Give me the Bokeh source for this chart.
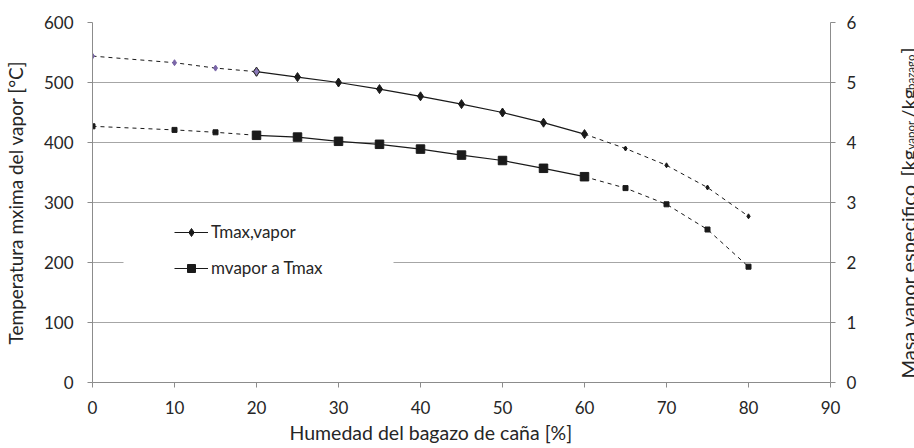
from bokeh.plotting import figure
from bokeh.models import (Range1d, LinearAxis, Legend, LegendItem, Label, Title,
                          BoxAnnotation, FixedTicker, ColumnDataSource)
from bokeh.layouts import row
from bokeh.embed import file_html
from bokeh.resources import INLINE
from math import pi

# ---- data ----
humedad = [0, 10, 15, 20, 25, 30, 35, 40, 45, 50, 55, 60, 65, 70, 75, 80]
tmax_vapor = [544, 533, 524, 518, 509, 500, 489, 477, 464, 450, 433, 414, 390, 362, 325, 277]
mvapor = [4.27, 4.21, 4.17, 4.12, 4.09, 4.02, 3.97, 3.89, 3.79, 3.70, 3.57, 3.43, 3.24, 2.97, 2.55, 1.93]
x_ticks = [0, 10, 20, 30, 40, 50, 60, 70, 80, 90]
y_ticks = [0, 100, 200, 300, 400, 500, 600]
y2_ticks = [0, 1, 2, 3, 4, 5, 6]
legend_labels = ["Tmax,vapor", "mvapor a Tmax"]
x_title = "Humedad del bagazo de caña [%]"
y_title = "Temperatura mxima del vapor [°C]"
y2_title_parts = ["Masa vapor especifico", "[kg", "vapor", "/kg", "bazago", "]"]

# indices where the calculated (solid) part starts / ends
i0, i1 = 3, 11

FONT = "Lato"
TXT = "#262626"
GRID = "#a6a6a6"
AX = "#8c8c8c"
BLK = "#1a1a1a"

p = figure(width=880, height=448, x_range=Range1d(0, 90), y_range=Range1d(0, 600),
           output_backend="svg", toolbar_location=None,
           min_border_left=91, min_border_right=50, min_border_top=22, min_border_bottom=66)
p.outline_line_color = None
p.frame_align = False
p.extra_y_ranges = {"m": Range1d(0, 6)}

# axes
p.xaxis.ticker = FixedTicker(ticks=x_ticks)
p.yaxis.ticker = FixedTicker(ticks=y_ticks)
ax2 = LinearAxis(y_range_name="m", ticker=FixedTicker(ticks=y2_ticks))
p.add_layout(ax2, "right")
for ax in [p.xaxis[0], p.yaxis[0], ax2]:
    ax.axis_line_color = AX
    ax.major_tick_line_color = AX
    ax.major_tick_out = 5
    ax.major_tick_in = 0
    ax.minor_tick_line_color = None
    ax.major_label_text_font = FONT
    ax.major_label_text_font_size = "17px"
    ax.major_label_text_color = TXT
p.xaxis.major_label_standoff = 13
p.yaxis[0].major_label_standoff = 14
ax2.major_label_standoff = 11
p.yaxis[0].axis_label = y_title
p.yaxis[0].axis_label_text_font = FONT
p.yaxis[0].axis_label_text_font_size = "19px"
p.yaxis[0].axis_label_text_font_style = "normal"
p.yaxis[0].axis_label_text_color = TXT
p.yaxis[0].axis_label_standoff = 14

p.xgrid.grid_line_color = None
p.ygrid.grid_line_color = GRID
p.ygrid.ticker = FixedTicker(ticks=y_ticks)

# x axis title (offset to the left like the reference)
p.add_layout(Title(text=x_title, align="left", offset=197, standoff=4,
                   text_font=FONT, text_font_size="19.5px", text_font_style="normal",
                   text_color=TXT), "below")

# white box behind legend (hides the gridline there)
p.add_layout(BoxAnnotation(left=31, right=301, bottom=95, top=165,
                           left_units="screen", right_units="screen",
                           bottom_units="screen", top_units="screen",
                           fill_color="white", fill_alpha=1, line_color=None,
                           level="underlay"))

def part(a, b):
    return dict(x=humedad[a:b], t=tmax_vapor[a:b], m=mvapor[a:b])

pre = ColumnDataSource(part(0, i0 + 1))
mid = ColumnDataSource(part(i0, i1 + 1))
post = ColumnDataSource(part(i1, len(humedad)))
pre_pts = ColumnDataSource(part(0, i0))
post_pts = ColumnDataSource(part(i1 + 1, len(humedad)))
first_mid = ColumnDataSource(part(i0, i0 + 1))

# Tmax series
p.line("x", "t", source=pre, line_color=BLK, line_width=1, line_dash="4 4")
p.line("x", "t", source=post, line_color=BLK, line_width=1, line_dash="4 4")
lt = p.line("x", "t", source=mid, line_color=BLK, line_width=1.2)
p.scatter("x", "t", source=pre_pts, marker="diamond", size=6, fill_color="#7a66a8", line_color="#7a66a8")
p.scatter("x", "t", source=post_pts, marker="diamond", size=5, fill_color=BLK, line_color=BLK)
mt = p.scatter("x", "t", source=mid, marker="diamond", size=9, fill_color=BLK, line_color=BLK)
p.scatter("x", "t", source=first_mid, marker="diamond", size=9,
          fill_color="#8a78b8", line_color="#333333")

# mvapor series
p.line("x", "m", source=pre, y_range_name="m", line_color=BLK, line_width=1, line_dash="4 4")
p.line("x", "m", source=post, y_range_name="m", line_color=BLK, line_width=1, line_dash="4 4")
lm = p.line("x", "m", source=mid, y_range_name="m", line_color=BLK, line_width=1.2)
p.scatter("x", "m", source=pre_pts, y_range_name="m", marker="square", size=5, fill_color=BLK, line_color=BLK)
p.scatter("x", "m", source=post_pts, y_range_name="m", marker="square", size=5, fill_color=BLK, line_color=BLK)
mm = p.scatter("x", "m", source=mid, y_range_name="m", marker="square", size=8.5, fill_color=BLK, line_color=BLK)

legend = Legend(items=[LegendItem(label=legend_labels[0], renderers=[lt, mt]),
                       LegendItem(label=legend_labels[1], renderers=[lm, mm])],
                location=(82, 104), background_fill_alpha=0, border_line_color=None,
                padding=5, margin=0, spacing=15, glyph_width=34, glyph_height=20,
                label_standoff=3, label_text_font=FONT, label_text_font_size="17px",
                label_text_color=TXT)
p.add_layout(legend)

# right axis title (with subscripts) in a narrow strip to the right
rfig = figure(width=34, height=448, x_range=Range1d(0, 1), y_range=Range1d(0, 1),
              output_backend="svg", toolbar_location=None, min_border=0,
              x_axis_type=None, y_axis_type=None, title=None)
rfig.frame_align = False
rfig.outline_line_color = None
rfig.xgrid.visible = False
rfig.ygrid.visible = False
xs = [27, 27, 29.5, 27, 29.5, 27]
ys = [70, 272, 299, 330, 358.5, 395]
sizes = ["20px", "20px", "11.5px", "20px", "11.5px", "20px"]
for t, xx, yy, fs in zip(y2_title_parts, xs, ys, sizes):
    rfig.add_layout(Label(x=xx, y=yy, x_units="screen", y_units="screen", text=t,
                          angle=pi / 2, text_align="left", text_baseline="alphabetic",
                          text_font=FONT, text_font_size=fs, text_color=TXT))

layout = row(p, rfig, spacing=0)
open("out.html", "w").write(file_html(layout, INLINE))
